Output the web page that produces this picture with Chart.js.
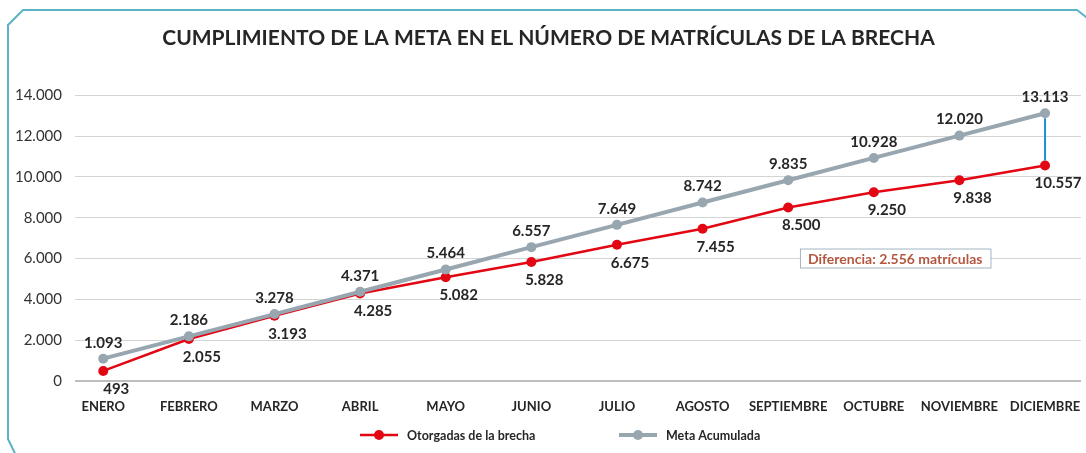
<!DOCTYPE html>
<html lang="es">
<head>
<meta charset="utf-8">
<title>Cumplimiento de la meta</title>
<script src="https://cdn.jsdelivr.net/npm/chart.js@4.4.1/dist/chart.umd.min.js"></script>
<style>
    html, body { margin: 0; padding: 0; background: #fff; }
    #wrap { position: relative; width: 1086px; height: 453px; }
</style>
</head>
<body>
<div id="wrap"><canvas id="chart"></canvas></div>
<script>
// Data
const months = ['ENERO', 'FEBRERO', 'MARZO', 'ABRIL', 'MAYO', 'JUNIO', 'JULIO',
    'AGOSTO', 'SEPTIEMBRE', 'OCTUBRE', 'NOVIEMBRE', 'DICIEMBRE'];
const otorgadas = [493, 2055, 3193, 4285, 5082, 5828, 6675, 7455, 8500, 9250, 9838, 10557];
const metaAcumulada = [1093, 2186, 3278, 4371, 5464, 6557, 7649, 8742, 9835, 10928, 12020, 13113];
const yTicks = [0, 2000, 4000, 6000, 8000, 10000, 12000, 14000];

const colors = {
    red: '#e30613',
    gray: '#98a6b0',
    blue: '#1b8fd2',
    frame: '#5ab4c5',
    text: '#262626',
    diff: '#b5573f'
};
const FONT = "Lato, 'Open Sans', sans-serif";

// "12345" -> "12.345"
function fmt(n) {
    return String(n).replace(/\B(?=(\d{3})+(?!\d))/g, '.');
}

// Frame with cut corners behind the chart
const framePlugin = {
    id: 'frame',
    beforeDraw(chart) {
        const ctx = chart.ctx;
        ctx.save();
        ctx.fillStyle = '#fff';
        ctx.fillRect(0, 0, chart.width, chart.height);
        ctx.strokeStyle = colors.frame;
        ctx.lineWidth = 2;
        ctx.beginPath();
        ctx.moveTo(23, 470);
        ctx.lineTo(8, 439);
        ctx.lineTo(8, 25);
        ctx.lineTo(23, 10);
        ctx.lineTo(1077, 10);
        ctx.lineTo(1090, 20);
        ctx.stroke();
        ctx.restore();
    }
};

// Value labels, the gap line in December and the "Diferencia" box
const labelsPlugin = {
    id: 'valueLabels',
    afterDatasetsDraw(chart) {
        const ctx = chart.ctx;
        const x = chart.scales.x, y = chart.scales.y;
        const last = months.length - 1;
        ctx.save();

        // vertical gap line
        ctx.strokeStyle = colors.blue;
        ctx.lineWidth = 2;
        ctx.beginPath();
        ctx.moveTo(x.getPixelForValue(last), y.getPixelForValue(metaAcumulada[last]) + 5);
        ctx.lineTo(x.getPixelForValue(last), y.getPixelForValue(otorgadas[last]) - 5);
        ctx.stroke();

        ctx.font = 'bold 15px ' + FONT;
        ctx.fillStyle = colors.text;
        ctx.textAlign = 'center';
        ctx.textBaseline = 'middle';
        metaAcumulada.forEach((v, i) => {
            ctx.fillText(fmt(v), x.getPixelForValue(i), y.getPixelForValue(v) - 16);
        });
        otorgadas.forEach((v, i) => {
            ctx.fillText(fmt(v), x.getPixelForValue(i) + 13, y.getPixelForValue(v) + 18);
        });

        // difference box
        const diff = metaAcumulada[last] - otorgadas[last];
        const txt = 'Diferencia: ' + fmt(diff) + ' matrículas';
        ctx.font = 'bold 14px ' + FONT;
        const w = ctx.measureText(txt).width + 16;
        const cx = x.getPixelForValue(9.25), cy = y.getPixelForValue(6000);
        ctx.fillStyle = '#fff';
        ctx.fillRect(cx - w / 2, cy - 10, w, 20);
        ctx.strokeStyle = '#a3b5c3';
        ctx.lineWidth = 1;
        ctx.strokeRect(cx - w / 2 + 0.5, cy - 9.5, w, 19);
        ctx.fillStyle = colors.diff;
        ctx.fillText(txt, cx, cy + 1);
        ctx.restore();
    }
};

// Legend with line + dot markers
const legendPlugin = {
    id: 'lineLegend',
    afterDraw(chart) {
        const ctx = chart.ctx;
        const yPos = 435;
        const starts = [360, 619];
        ctx.save();
        ctx.font = 'bold 12.5px ' + FONT;
        ctx.textBaseline = 'middle';
        ctx.textAlign = 'left';
        chart.data.datasets.forEach((ds, i) => {
            const x0 = starts[i];
            ctx.strokeStyle = ds.borderColor;
            ctx.lineWidth = ds.borderWidth;
            ctx.beginPath();
            ctx.moveTo(x0, yPos);
            ctx.lineTo(x0 + 38, yPos);
            ctx.stroke();
            ctx.fillStyle = ds.pointBackgroundColor;
            ctx.beginPath();
            ctx.arc(x0 + 19, yPos, 5, 0, Math.PI * 2);
            ctx.fill();
            ctx.fillStyle = colors.text;
            ctx.fillText(ds.label, x0 + 47, yPos + 1);
        });
        ctx.restore();
    }
};

const ctx = document.getElementById('chart');
new Chart(ctx, {
    type: 'line',
    data: {
        datasets: [{
            label: 'Otorgadas de la brecha',
            data: otorgadas.map((v, i) => ({ x: i, y: v })),
            borderColor: colors.red,
            backgroundColor: colors.red,
            pointBackgroundColor: colors.red,
            pointBorderWidth: 0,
            pointRadius: 5,
            borderWidth: 2.5,
            order: 1
        }, {
            label: 'Meta Acumulada',
            data: metaAcumulada.map((v, i) => ({ x: i, y: v })),
            borderColor: colors.gray,
            backgroundColor: colors.gray,
            pointBackgroundColor: colors.gray,
            pointBorderWidth: 0,
            pointRadius: 5,
            borderWidth: 4,
            order: 0
        }]
    },
    options: {
        responsive: true,
        maintainAspectRatio: false,
        animation: false,
        layout: {
            padding: { left: 15, right: 4, top: 0, bottom: 42 }
        },
        plugins: {
            legend: { display: false },
            tooltip: { enabled: false },
            title: {
                display: true,
                text: 'CUMPLIMIENTO DE LA META EN EL NÚMERO DE MATRÍCULAS DE LA BRECHA',
                color: colors.text,
                font: { family: FONT, size: 21, weight: 'bold' },
                padding: { top: 26, bottom: 44 }
            }
        },
        scales: {
            x: {
                type: 'linear',
                min: -0.33,
                max: 11.42,
                afterBuildTicks: (scale) => {
                    scale.ticks = months.map((_, i) => ({ value: i }));
                },
                afterFit: (scale) => {
                    scale.height = 30;
                    scale.paddingLeft = 0;
                    scale.paddingRight = 0;
                },
                ticks: {
                    autoSkip: false,
                    maxRotation: 0,
                    padding: 10,
                    color: colors.text,
                    font: { family: FONT, size: 13, weight: 'bold' },
                    callback: (v) => months[v]
                },
                grid: { display: false },
                border: { display: false }
            },
            y: {
                min: 0,
                max: 14000,
                afterBuildTicks: (scale) => {
                    scale.ticks = yTicks.map(v => ({ value: v }));
                },
                afterFit: (scale) => { scale.width = 60; },
                ticks: {
                    padding: 13,
                    color: '#333',
                    font: { family: FONT, size: 15 },
                    callback: (v) => fmt(v)
                },
                grid: {
                    drawTicks: false,
                    color: (c) => c.tick && c.tick.value === 0 ? '#bdbdbd' : '#d4d4d4',
                    lineWidth: (c) => c.tick && c.tick.value === 0 ? 2 : 1
                },
                border: { display: false }
            }
        }
    },
    plugins: [framePlugin, labelsPlugin, legendPlugin]
});
</script>
</body>
</html>
